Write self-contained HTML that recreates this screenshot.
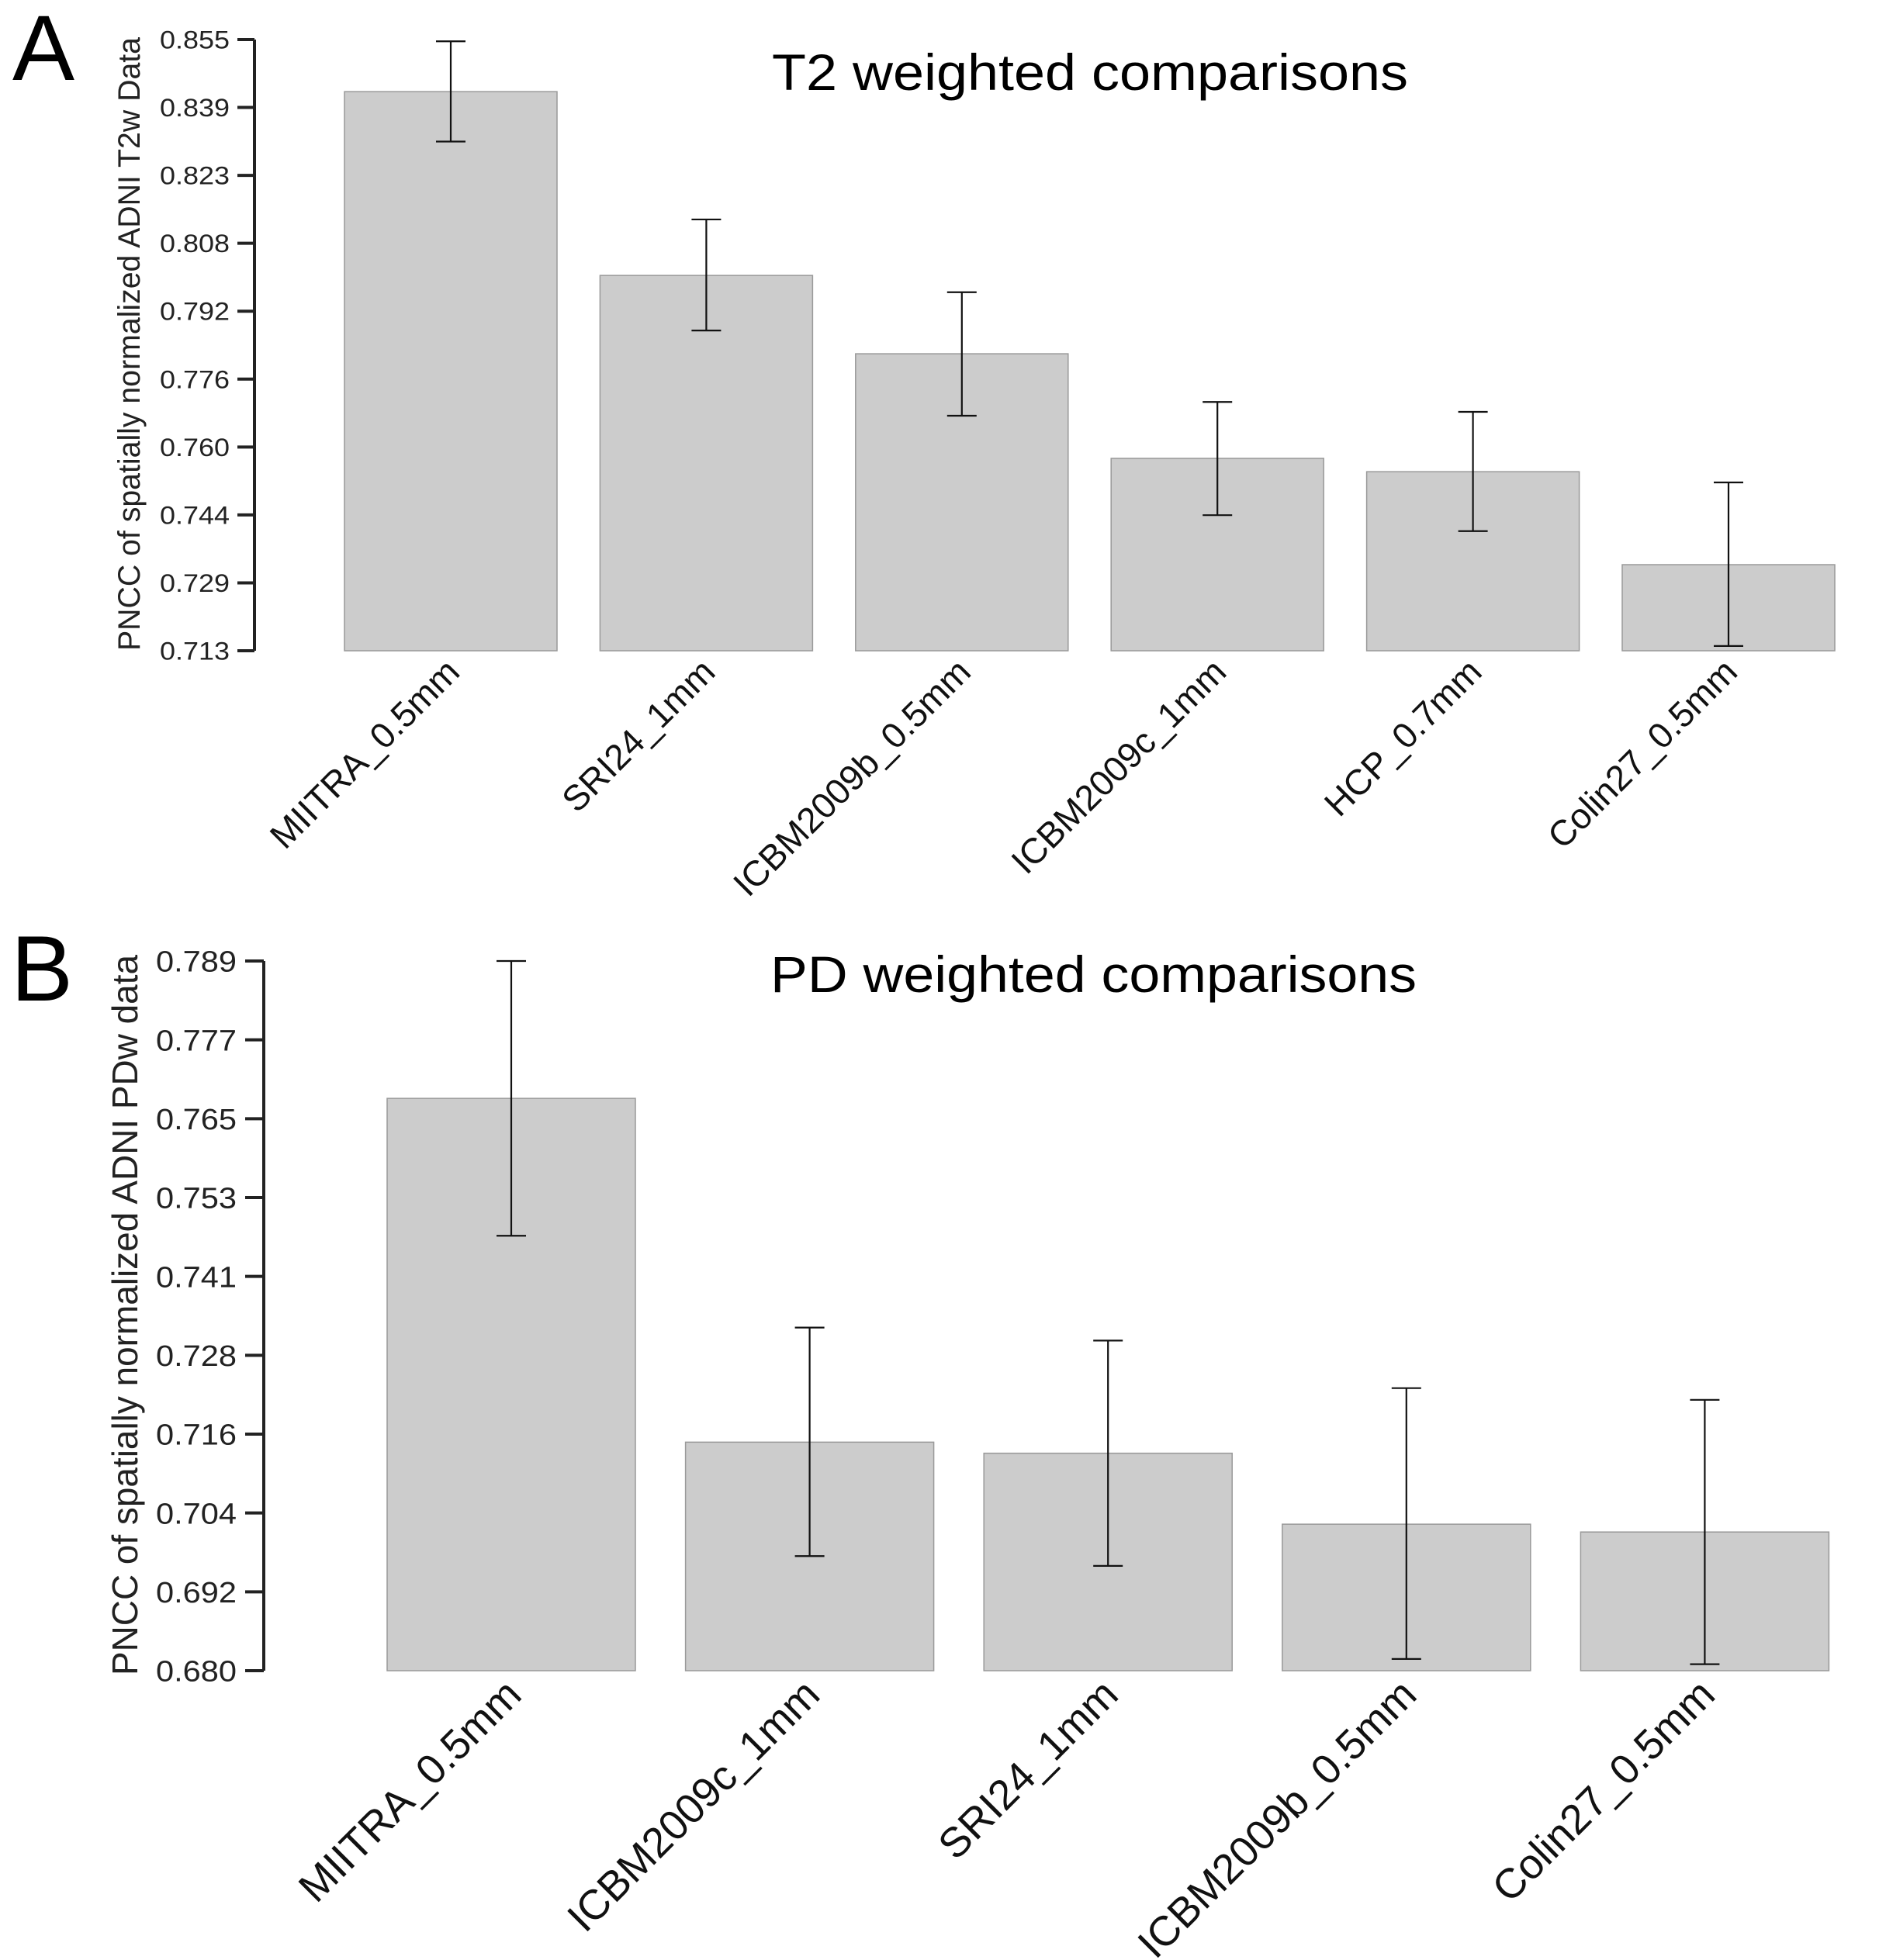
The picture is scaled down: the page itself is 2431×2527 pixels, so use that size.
<!DOCTYPE html>
<html><head><meta charset="utf-8"><style>
html,body{margin:0;padding:0;background:#fff;}
svg{display:block;font-family:"Liberation Sans",Arial,sans-serif;}
</style></head><body>
<svg id="fig" width="2431" height="2527" viewBox="0 0 2431 2527">
<text x="16" y="103" font-size="120">A</text>
<text x="14" y="1290" font-size="120">B</text>
<text x="995" y="116" font-size="66" textLength="820" lengthAdjust="spacingAndGlyphs">T2 weighted comparisons</text>
<text x="993" y="1279" font-size="66" textLength="833" lengthAdjust="spacingAndGlyphs">PD weighted comparisons</text>
<text transform="translate(180,839) rotate(-90)" font-size="40" fill="#222" textLength="791" lengthAdjust="spacingAndGlyphs">PNCC of spatially normalized ADNI T2w Data</text>
<text transform="translate(177,2160) rotate(-90)" font-size="46" fill="#222" textLength="929" lengthAdjust="spacingAndGlyphs">PNCC of spatially normalized ADNI PDw data</text>
<g id="ga"></g>
<g id="gb"></g>
</svg>
<script>
// Chart A data
const catsA = ["MIITRA_0.5mm","SRI24_1mm","ICBM2009b_0.5mm","ICBM2009c_1mm","HCP_0.7mm","Colin27_0.5mm"];
const valsA = [0.8429,0.8002,0.7820,0.7577,0.7546,0.7330];
const errHiA = [0.8546,0.8132,0.7963,0.7708,0.7685,0.7521];
const errLoA = [0.8313,0.7874,0.7676,0.7445,0.7408,0.7141];
const ticksA = ["0.713","0.729","0.744","0.760","0.776","0.792","0.808","0.823","0.839","0.855"];
// Chart B data
const catsB = ["MIITRA_0.5mm","ICBM2009c_1mm","SRI24_1mm","ICBM2009b_0.5mm","Colin27_0.5mm"];
const valsB = [0.7679,0.7151,0.7134,0.7025,0.7013];
const errHiB = [0.7890,0.7327,0.7307,0.7234,0.7216];
const errLoB = [0.7468,0.6976,0.6961,0.6818,0.6810];
const ticksB = ["0.680","0.692","0.704","0.716","0.728","0.741","0.753","0.765","0.777","0.789"];

const NS="http://www.w3.org/2000/svg";
function mk(parent,tag,attrs){const e=document.createElementNS(NS,tag);for(const k in attrs)e.setAttribute(k,attrs[k]);parent.appendChild(e);return e;}

function drawChart(g,cfg,cats,vals,hi,lo,ticks,pfx){
  const y=v=>cfg.y0-(v-cfg.vmin)/(cfg.vmax-cfg.vmin)*(cfg.y0-cfg.y1);
  const ax=mk(g,"line",{x1:cfg.axX,x2:cfg.axX,y1:cfg.y1,y2:cfg.y0,stroke:"#222","stroke-width":4});
  
  
  ticks.forEach((t,i)=>{
    const ty=cfg.y0-i*(cfg.y0-cfg.y1)/(ticks.length-1);
    const tl=mk(g,"line",{x1:cfg.axX-cfg.tickLen,x2:cfg.axX,y1:ty,y2:ty,stroke:"#222","stroke-width":4});
    
    
    const tx=mk(g,"text",{x:cfg.labX,y:ty+cfg.tickFont*0.36,"text-anchor":"end","font-size":cfg.tickFont,fill:"#222",textLength:cfg.tickW,lengthAdjust:"spacingAndGlyphs"});
    tx.textContent=t;
    
    
  });
  cats.forEach((c,i)=>{
    const x=cfg.x0+i*cfg.pitch, cx=x+cfg.bw/2;
    const r=mk(g,"rect",{x:x,y:y(vals[i]),width:cfg.bw,height:cfg.y0-y(vals[i]),fill:"#cccccc",stroke:"#999","stroke-width":1.5});
    
    
    const eg=mk(g,"g",{stroke:"#111","stroke-width":2.2});
    
    
    mk(eg,"line",{x1:cx,x2:cx,y1:y(hi[i]),y2:y(lo[i])});
    mk(eg,"line",{x1:cx-19,x2:cx+19,y1:y(hi[i]),y2:y(hi[i])});
    mk(eg,"line",{x1:cx-19,x2:cx+19,y1:y(lo[i]),y2:y(lo[i])});
    const lx=cx+cfg.labDx, ly=cfg.y0+cfg.labDy;
    const t=mk(g,"text",{x:lx,y:ly,"text-anchor":"end","font-size":cfg.catFont,fill:"#111",transform:`rotate(-45 ${lx} ${ly})`});
    t.textContent=c;
    
    
  });
}
drawChart(document.getElementById("ga"),{y0:839,y1:51,vmin:0.713,vmax:0.855,axX:328,tickLen:22,labX:296,tickFont:32,tickW:90,x0:444,pitch:329.4,bw:274,catFont:46,labDx:14,labDy:30},catsA,valsA,errHiA,errLoA,ticksA,"chart-a");
drawChart(document.getElementById("gb"),{y0:2154,y1:1239,vmin:0.680,vmax:0.789,axX:340,tickLen:24,labX:305,tickFont:38,tickW:104,x0:499,pitch:384.6,bw:320,catFont:54,labDx:16,labDy:34},catsB,valsB,errHiB,errLoB,ticksB,"chart-b");
</script>
</body></html>
